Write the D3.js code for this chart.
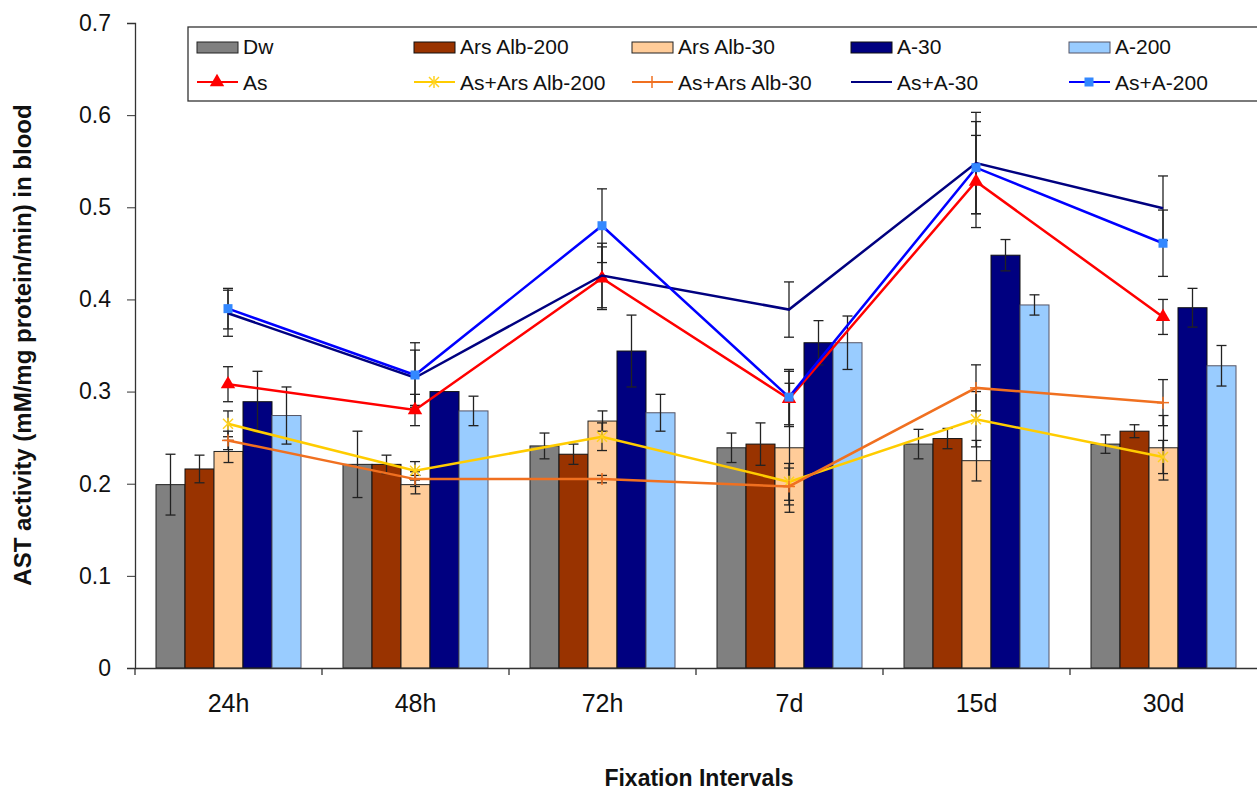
<!DOCTYPE html>
<html><head><meta charset="utf-8">
<script src="https://cdn.jsdelivr.net/npm/d3@7/dist/d3.min.js"></script>
<style>body{margin:0;background:#fff}svg{display:block;font-family:"Liberation Sans",Arial,sans-serif}</style>
</head><body><svg id="c" width="1257" height="792"></svg>
<script>
const categories = ['24h','48h','72h','7d','15d','30d'];
const barSeries = ['Dw','Ars Alb-200','Ars Alb-30','A-30','A-200'];
const dwVals   = [0.199,0.221,0.241,0.239,0.243,0.243];
const dwErr    = [0.033,0.036,0.014,0.016,0.016,0.010];
const aa200Vals= [0.216,0.221,0.232,0.243,0.249,0.257];
const aa200Err = [0.015,0.010,0.011,0.023,0.011,0.007];
const aa30Vals = [0.235,0.199,0.268,0.239,0.225,0.239];
const aa30Err  = [0.012,0.010,0.011,0.070,0.022,0.035];
const a30Vals  = [0.289,0.300,0.344,0.353,0.448,0.391];
const a30Err   = [0.033,0.000,0.039,0.024,0.017,0.021];
const a200Vals = [0.274,0.279,0.277,0.353,0.394,0.328];
const a200Err  = [0.031,0.016,0.020,0.029,0.011,0.022];

const lineSeries = ['As','As+Ars Alb-200','As+Ars Alb-30','As+A-30','As+A-200'];
const asVals      = [0.308,0.280,0.423,0.292,0.528,0.381];
const asErr       = [0.019,0.017,0.034,0.030,0.050,0.019];
const asAa200Vals = [0.265,0.214,0.251,0.202,0.270,0.229];
const asAa200Err  = [0.014,0.010,0.015,0.020,0.030,0.018];
const asAa30Vals  = [0.247,0.205,0.205,0.197,0.304,0.288];
const asAa30Err   = [0.010,0.008,0.004,0.020,0.025,0.025];
const asA30Vals   = [0.385,0.315,0.426,0.389,0.548,0.499];
const asA30Err    = [0.025,0.030,0.035,0.030,0.055,0.035];
const asA200Vals  = [0.390,0.318,0.480,0.294,0.543,0.461];
const asA200Err   = [0.022,0.035,0.040,0.030,0.050,0.036];
const yTicks = [0,0.1,0.2,0.3,0.4,0.5,0.6,0.7];

const barVals = [dwVals,aa200Vals,aa30Vals,a30Vals,a200Vals];
const barErrs = [dwErr,aa200Err,aa30Err,a30Err,a200Err];
const barFill = ['#808080','#993300','#FFCC99','#000080','#99CCFF'];
const barStroke = ['#222','#111','#222','#111','#556'];
const lineVals = [asVals,asAa200Vals,asAa30Vals,asA30Vals,asA200Vals];
const lineErrs = [asErr,asAa200Err,asAa30Err,asA30Err,asA200Err];
const lineColor = ['#FF0000','#FFCC00','#F07020','#000080','#0000FF'];
const markerType = ['tri','star','plus','none','square'];
const FONT = '"Liberation Sans",Arial,sans-serif';

const svg = d3.select('#c');
const L=135, R=1257, T=23, B=668;
const x = d3.scaleBand().domain(categories).range([L,R]).padding(0);
const xi = d3.scaleBand().domain(barSeries).range([21,166]).padding(0);
const y = d3.scaleLinear().domain([0,0.7]).range([B,T]);

// bars
barSeries.forEach((s,si)=>{
  const g = svg.append('g');
  g.selectAll('rect').data(categories).join('rect')
    .attr('x',c=>x(c)+xi(s)).attr('width',xi.bandwidth())
    .attr('y',(c,i)=>y(barVals[si][i])).attr('height',(c,i)=>B-y(barVals[si][i]))
    .attr('fill',barFill[si]).attr('stroke',barStroke[si]).attr('stroke-width',1);
});
// bar error bars
barSeries.forEach((s,si)=>{
  categories.forEach((c,i)=>{
    const e = barErrs[si][i]; if(!e) return;
    const cx = x(c)+xi(s)+xi.bandwidth()/2, v=barVals[si][i];
    const g = svg.append('g').attr('stroke','#222').attr('stroke-width',1.3);
    g.append('line').attr('x1',cx).attr('x2',cx).attr('y1',y(v+e)).attr('y2',y(v-e));
    [v+e,v-e].forEach(t=>g.append('line').attr('x1',cx-5).attr('x2',cx+5).attr('y1',y(t)).attr('y2',y(t)));
  });
});

// axes
const yAxis = svg.append('g').attr('transform',`translate(${L},0)`)
  .call(d3.axisLeft(y).tickValues(yTicks).tickSize(8).tickPadding(16).tickFormat(d=>d===0?'0':d3.format('.1f')(d)));
yAxis.select('.domain').attr('stroke','#333').attr('stroke-width',1.3);
yAxis.selectAll('line').attr('stroke','#333');
yAxis.selectAll('text').attr('font-size',23).attr('fill','#111').attr('font-family',FONT);

const xAxis = svg.append('g').attr('transform',`translate(0,${B})`)
  .call(d3.axisBottom(x).tickSize(0).tickPadding(26));
xAxis.select('.domain').attr('stroke','#333').attr('stroke-width',1.3);
xAxis.selectAll('text').attr('font-size',25).attr('fill','#111').attr('font-family',FONT);
const bounds = categories.map(c=>x(c));
svg.append('g').selectAll('line').data(bounds).join('line')
  .attr('x1',d=>d).attr('x2',d=>d).attr('y1',B).attr('y2',B+7).attr('stroke','#333').attr('stroke-width',1.3);

// lines
const cx = c=>x(c)+x.bandwidth()/2 - 0.5;
lineSeries.forEach((s,si)=>{
  const eg = svg.append('g').attr('stroke','#222').attr('stroke-width',1.3);
  categories.forEach((c,i)=>{
    const v=lineVals[si][i], e=lineErrs[si][i], px=cx(c);
    eg.append('line').attr('x1',px).attr('x2',px).attr('y1',y(v+e)).attr('y2',y(v-e));
    [v+e,v-e].forEach(t=>eg.append('line').attr('x1',px-5).attr('x2',px+5).attr('y1',y(t)).attr('y2',y(t)));
  });
});
lineSeries.forEach((s,si)=>{
  const line = d3.line().x((d,i)=>cx(categories[i])).y(d=>y(d));
  svg.append('path').datum(lineVals[si]).attr('d',line).attr('fill','none')
    .attr('stroke',lineColor[si]).attr('stroke-width',2.5);
  const mg = svg.append('g');
  categories.forEach((c,i)=>drawMarker(mg,markerType[si],cx(c),y(lineVals[si][i]),si));
});

function drawMarker(g,t,px,py,si){
  if(t==='tri') g.append('path').attr('d',d3.symbol(d3.symbolTriangle,90)()).attr('transform',`translate(${px},${py})`).attr('fill','#FF0000');
  else if(t==='square') g.append('rect').attr('x',px-4.5).attr('y',py-4.5).attr('width',9).attr('height',9).attr('fill','#3388FF');
  else if(t==='star'){
    const gg=g.append('g').attr('stroke','#FFD21F').attr('stroke-width',1.5);
    gg.append('line').attr('x1',px-5).attr('x2',px+5).attr('y1',py-5).attr('y2',py+5);
    gg.append('line').attr('x1',px-5).attr('x2',px+5).attr('y1',py+5).attr('y2',py-5);
    gg.append('line').attr('x1',px).attr('x2',px).attr('y1',py-6).attr('y2',py+6);
  } else if(t==='plus'){
    const gg=g.append('g').attr('stroke','#F07020').attr('stroke-width',1.5);
    gg.append('line').attr('x1',px).attr('x2',px).attr('y1',py-6).attr('y2',py+6);
    gg.append('line').attr('x1',px-6).attr('x2',px+6).attr('y1',py).attr('y2',py);
  }
}

// legend
const lg = svg.append('g');
lg.append('rect').attr('x',188).attr('y',27).attr('width',1080).attr('height',74)
  .attr('fill','#fff').attr('stroke','#333').attr('stroke-width',1.3);
const colX = [197,414,632,851,1069];
barSeries.forEach((s,i)=>{
  lg.append('rect').attr('x',colX[i]).attr('y',42).attr('width',41).attr('height',11)
    .attr('fill',barFill[i]).attr('stroke',barStroke[i]);
  lg.append('text').attr('x',colX[i]+46).attr('y',54).attr('font-size',21).attr('fill','#111').text(s);
});
lineSeries.forEach((s,i)=>{
  lg.append('line').attr('x1',colX[i]).attr('x2',colX[i]+41).attr('y1',82).attr('y2',82)
    .attr('stroke',lineColor[i]).attr('stroke-width',2);
  drawMarker(lg,markerType[i],colX[i]+20,82,i);
  lg.append('text').attr('x',colX[i]+46).attr('y',90).attr('font-size',21).attr('fill','#111').text(s);
});

// titles
svg.append('text').attr('transform','translate(31,345) rotate(-90)').attr('text-anchor','middle')
  .attr('font-size',24).attr('font-weight','bold').attr('fill','#111').text('AST activity (mM/mg protein/min) in blood');
svg.append('text').attr('x',699).attr('y',786).attr('text-anchor','middle')
  .attr('font-size',23).attr('font-weight','bold').attr('fill','#111').text('Fixation Intervals');
</script></body></html>
